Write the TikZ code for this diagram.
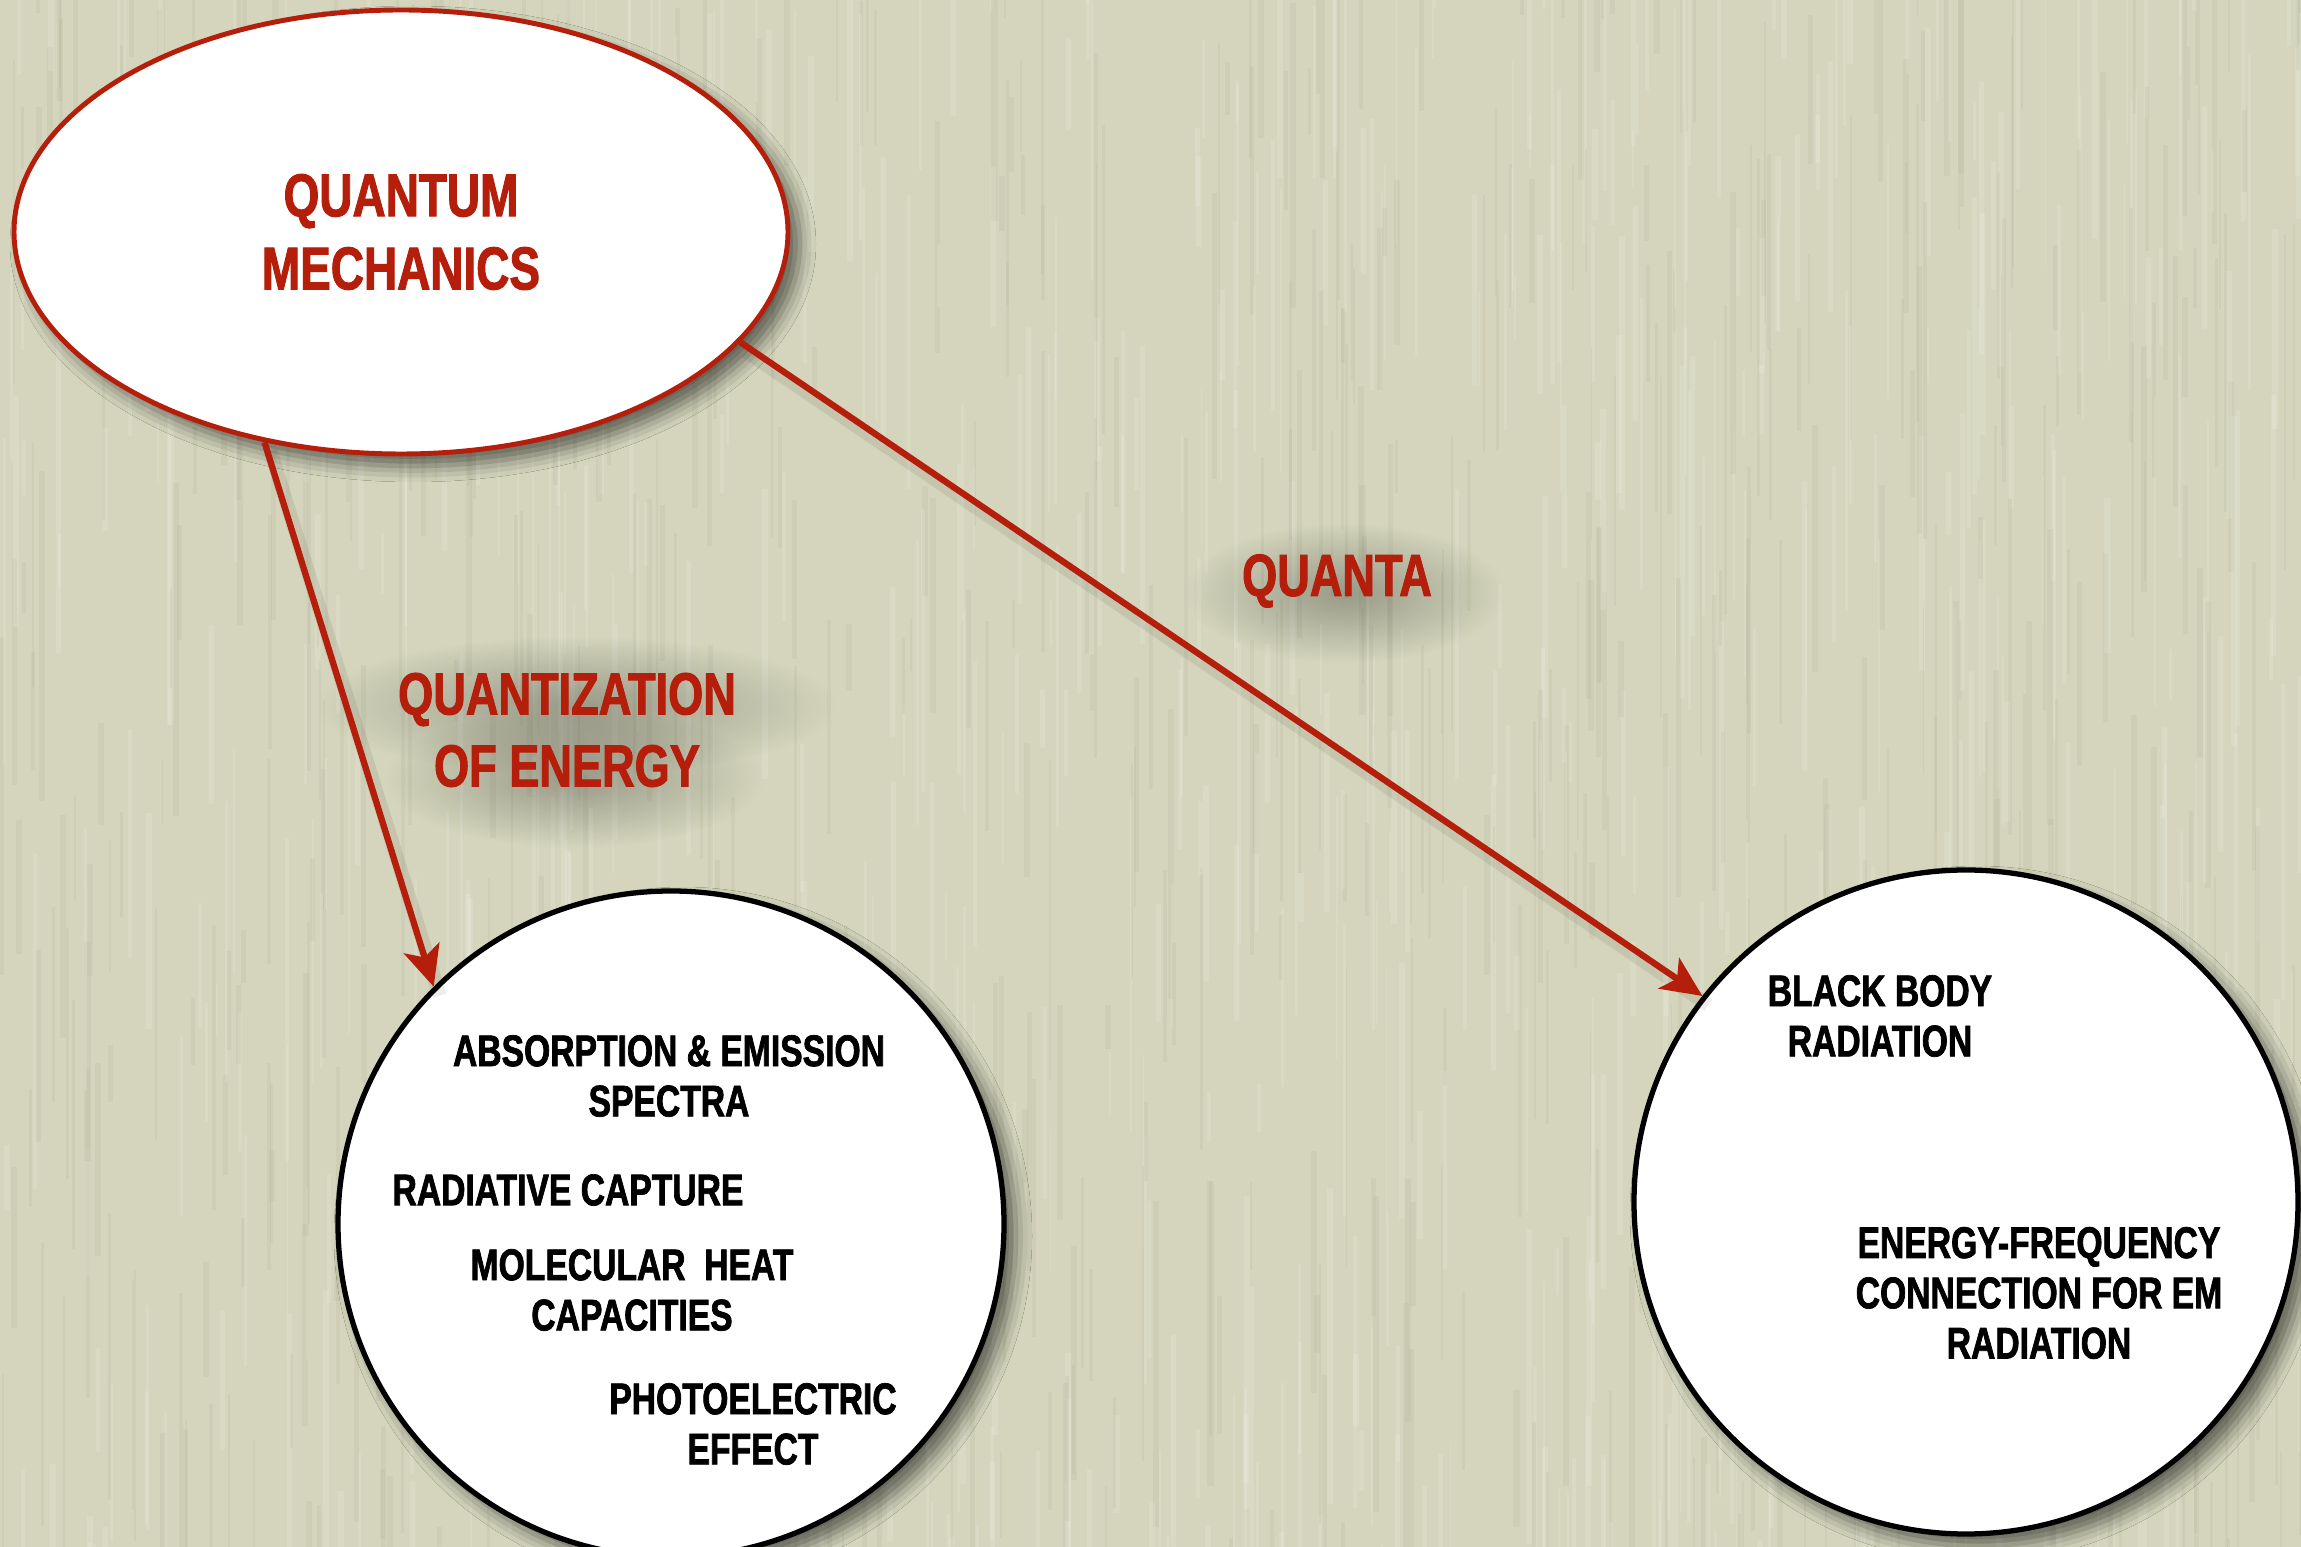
\documentclass[tikz,border=0pt]{standalone}
\usepackage{fontspec}
\newfontfamily\condfont{Liberation Sans}[FakeStretch=0.76, BoldFeatures={FakeBold=1.6}]
\usetikzlibrary{arrows.meta,shapes.geometric,shadows.blur,fadings}
\definecolor{paper}{HTML}{D4D5BC}
\definecolor{paperdark}{HTML}{A2A388}
\definecolor{qred}{HTML}{B41E0A}
\tikzfading[name=softblob, inner color=transparent!0, outer color=transparent!100]
\tikzset{
  qmnode/.style={ellipse, draw=qred, line width=1.4pt, fill=white, inner sep=0pt,
    minimum width=77.4mm, minimum height=44.4mm, text=qred, align=center,
    font=\condfont\bfseries\fontsize{17.2}{20.8}\selectfont,
    blur shadow={shadow xshift=1.2mm, shadow yshift=-1.2mm, shadow blur radius=1.6mm, shadow opacity=55}},
  topic/.style={circle, draw=black, line width=1.5pt, fill=white, inner sep=0pt,
    blur shadow={shadow xshift=1.2mm, shadow yshift=-1.2mm, shadow blur radius=1.6mm, shadow opacity=55}},
  item/.style={text=black, align=center, inner sep=0pt,
    font=\condfont\bfseries\fontsize{12.6}{14.3}\selectfont},
  redlabel/.style={text=qred, align=center, inner sep=0pt,
    font=\condfont\bfseries\fontsize{16.9}{20.5}\selectfont},
  link/.style={draw=qred, line width=1.8pt,
    -{Stealth[length=11.5pt, width=10.5pt, inset=2.8pt]}},
  linkshade/.style={draw=black, line width=4pt, opacity=0.07},
  softshade/.style={fill=black, opacity=0.28, path fading=softblob},
  streaklight/.style={draw=white, opacity=0.13},
  streakdark/.style={draw=paperdark, opacity=0.13},
}
\begin{document}
\begin{tikzpicture}[x=0.1mm, y=-0.1mm]
  \useasboundingbox (0,0) rectangle (2301,1547);
  % textured paper
  \fill[paper] (0,0) rectangle (2301,1547);
  \pgfmathsetseed{17}
  \foreach \i in {1,...,1400}{
    \pgfmathsetmacro\xx{rnd*2301}
    \pgfmathsetmacro\yy{rnd*1800-200}
    \pgfmathsetmacro\ll{40+rnd*300}
    \pgfmathsetmacro\ww{0.4+rnd*1.4}
    \ifodd\i
      \draw[streaklight, line width=\ww pt] (\xx,\yy) -- ++(0,\ll);
    \else
      \draw[streakdark, line width=\ww pt] (\xx,\yy) -- ++(0,\ll);
    \fi
  }

  % soft shadows under the connector labels
  \fill[softshade] (576,706) ellipse (260 and 70);
  \fill[softshade] (574,778) ellipse (190 and 70);
  \fill[softshade] (1345,593) ellipse (160 and 70);

  % nodes
  \node[qmnode] (qm) at (401,232) {QUANTUM\\MECHANICS};
  \node[topic, minimum size=66.6mm] (spec) at (671,1224) {};
  \node[topic, minimum size=66.4mm] (bb) at (1966,1202) {};

  % connectors
  \draw[linkshade] ([shift={(6,9)}]qm.237) -- ([shift={(6,9)}]spec.135);
  \draw[linkshade] ([shift={(6,9)}]qm.342) -- ([shift={(6,9)}]bb.142);
  \draw[link] (qm.237) -- (spec.135);
  \draw[link] (qm.342) -- (bb.142);

  % connector labels
  \node[redlabel] (qz) at (567,730) {QUANTIZATION\\OF ENERGY};
  \node[redlabel] (qa) at (1337,581) {QUANTA};

  % phenomena in each circle
  \node[item] (abs) at (669,1076) {ABSORPTION \& EMISSION\\SPECTRA};
  \node[item] (rad) at (568,1190) {RADIATIVE CAPTURE};
  \node[item] (mol) at (632,1290) {MOLECULAR\ \ HEAT\\CAPACITIES};
  \node[item] (pe) at (753,1424) {PHOTOELECTRIC\\EFFECT};
  \node[item] (bbr) at (1880,1016) {BLACK BODY\\RADIATION};
  \node[item] (ef) at (2039,1293) {ENERGY-FREQUENCY\\CONNECTION FOR EM\\RADIATION};
\end{tikzpicture}
\end{document}
